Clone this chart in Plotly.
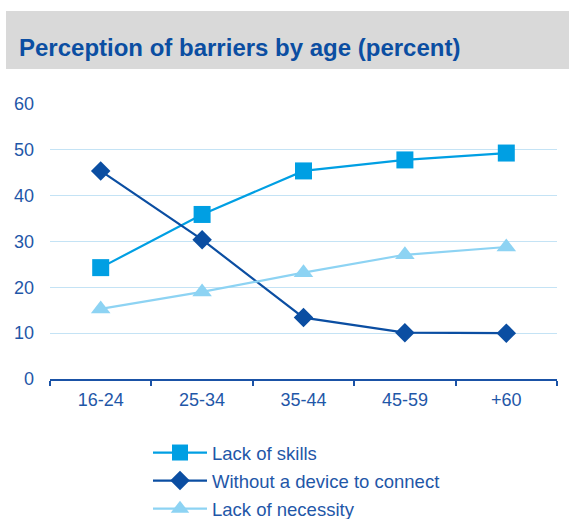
import plotly.graph_objects as go

categories = ["16-24", "25-34", "35-44", "45-59", "+60"]
lack_of_skills = [24.3, 35.9, 45.4, 47.8, 49.3]
without_device = [45.4, 30.4, 13.4, 10.1, 10.0]
lack_of_necessity = [15.3, 19.0, 23.2, 27.1, 28.8]
y_ticks = [0, 10, 20, 30, 40, 50, 60]

title_text = "Perception of barriers by age (percent)"
title_color = "#0B4EA2"
text_color = "#1F57A8"
axis_color = "#1A52A6"

fig = go.Figure()
fig.add_trace(go.Scatter(
    x=categories, y=lack_of_skills, name="Lack of skills", mode="lines+markers",
    legendgroup="a",
    line=dict(color="#009FE3", width=2.2),
    marker=dict(symbol="square", size=17, color="#009FE3"),
))
fig.add_trace(go.Scatter(
    x=categories, y=without_device, name="Without a device to connect", mode="lines+markers",
    legendgroup="b",
    line=dict(color="#0B4EA2", width=2.2),
    marker=dict(symbol="diamond", size=15, color="#0B4EA2"),
))
fig.add_trace(go.Scatter(
    x=categories, y=lack_of_necessity, name="Lack of necessity", mode="lines+markers",
    legendgroup="c",
    line=dict(color="#8DD3F3", width=2.2),
    marker=dict(symbol="triangle-up", size=17, color="#8DD3F3"),
))

W, H = 569, 519
L, R, T, B = 50, 12, 104, 140
pw = W - L - R
ph = H - T - B

def px_to_paper_x(px):
    return (px - L) / pw

def px_to_paper_y(py):
    return (H - B - py) / ph

fig.update_layout(
    width=W, height=H,
    margin=dict(l=L, r=R, t=T, b=B, pad=0, autoexpand=False),
    paper_bgcolor="white", plot_bgcolor="white",
    font=dict(family="Liberation Sans, Arial, sans-serif", color=text_color, size=18),
    showlegend=True,
    legend=dict(
        orientation="v",
        x=px_to_paper_x(148), xanchor="left",
        y=px_to_paper_y(434), yanchor="top",
        font=dict(size=18.5, color=text_color),
        itemwidth=54,
        tracegroupgap=1,
        bgcolor="rgba(0,0,0,0)",
    ),
    xaxis=dict(
        type="category",
        range=[-0.5, 4.5],
        showgrid=False,
        showline=True, linecolor=axis_color, linewidth=2,
        ticks="outside", ticklen=5, tickwidth=2, tickcolor=axis_color,
        tickson="boundaries",
        tickfont=dict(size=18, color=text_color),
        ticklabelstandoff=3,
        zeroline=False,
        fixedrange=True,
    ),
    yaxis=dict(
        range=[0, 60],
        tickvals=y_ticks,
        showgrid=True, gridcolor="#C4E3F5", gridwidth=1,
        showline=False, zeroline=False,
        tickfont=dict(size=18, color=text_color),
        ticklabelstandoff=15,
        fixedrange=True,
    ),
    shapes=[dict(
        type="rect", xref="paper", yref="paper", layer="below",
        x0=px_to_paper_x(6), x1=px_to_paper_x(575),
        y0=px_to_paper_y(69), y1=px_to_paper_y(11),
        fillcolor="#D9D9D9", line=dict(width=0),
    )],
    annotations=[dict(
        text="<b>" + title_text + "</b>", xref="paper", yref="paper",
        x=px_to_paper_x(17), xanchor="left",
        y=px_to_paper_y(47), yanchor="middle",
        showarrow=False,
        font=dict(size=24, color=title_color, family="Liberation Sans, Arial, sans-serif"),
    )],
)

fig.write_html(
    "out.html",
    config={"displayModeBar": False, "staticPlot": False},
    post_script="document.body.style.margin='0';",
)
